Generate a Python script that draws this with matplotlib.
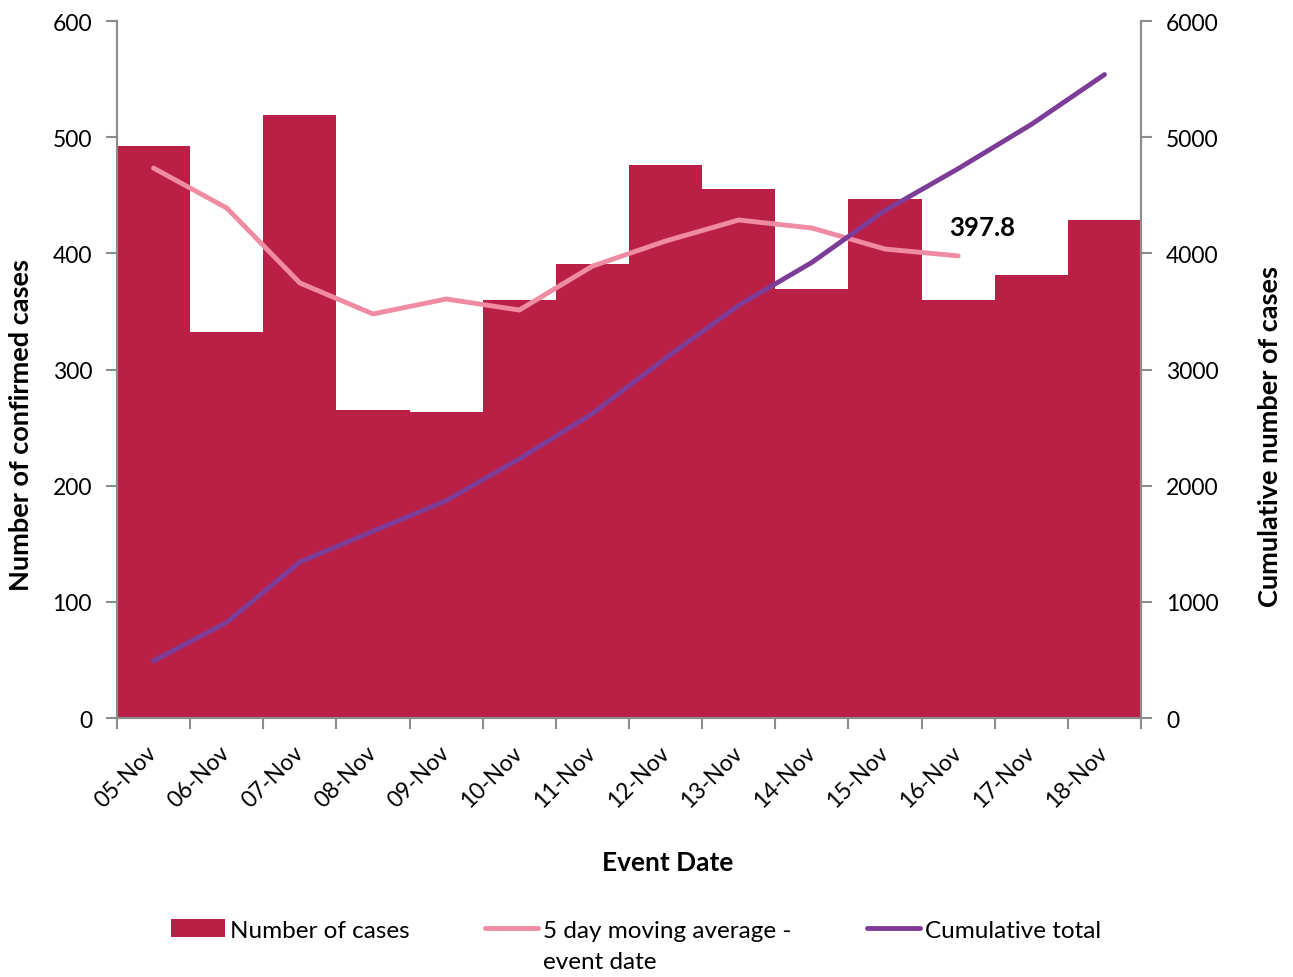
import numpy as np
import matplotlib.pyplot as plt

dates = ["05-Nov", "06-Nov", "07-Nov", "08-Nov", "09-Nov", "10-Nov", "11-Nov",
         "12-Nov", "13-Nov", "14-Nov", "15-Nov", "16-Nov", "17-Nov", "18-Nov"]
cases = [492, 332, 519, 265, 263, 360, 391, 476, 455, 369, 447, 360, 381, 429]
moving_avg = [473.4, 439.0, 374.5, 347.8, 360.7, 351.2, 389.0, 410.6, 428.7,
              421.8, 403.7, 397.8]
cumulative = [492, 824, 1343, 1608, 1871, 2231, 2622, 3098, 3553, 3922, 4369,
              4729, 5110, 5539]

bar_col = "#BA2045"
avg_col = "#EF8CA4"
cum_col = "#7D3C98"
grey = "#8C8C8C"

plt.rcParams["font.family"] = ["Lato", "DejaVu Sans"]

fig = plt.figure(figsize=(12.93, 9.78), dpi=100)
ax = fig.add_axes([0.0905, 0.2648, 0.792, 0.7127])
ax2 = ax.twinx()

x = np.arange(len(dates))

# bars and moving average on the left scale
bars = ax.bar(x, cases, width=1.0, color=bar_col, zorder=1)
ln_avg, = ax.plot(np.arange(len(moving_avg)), moving_avg, color=avg_col, lw=3.5,
                  solid_capstyle="round", zorder=3)
ax.annotate("397.8", (len(moving_avg) - 1, moving_avg[-1]), xytext=(17, 21),
            textcoords="offset points", ha="center", va="center",
            fontsize=18.5, fontweight="bold")

# cumulative on the right scale
ln_cum, = ax2.plot(x, cumulative, color=cum_col, lw=3.5, solid_capstyle="round")

ax.set_xlim(-0.5, len(dates) - 0.5)
ax.set_ylim(0, 600)
ax2.set_ylim(0, 6000)

ax.set_yticks(np.arange(0, 601, 100))
ax2.set_yticks(np.arange(0, 6001, 1000))
ax.set_xticks(np.arange(len(dates) + 1) - 0.5)
ax.set_xticklabels([])
ax.set_xticks(x, minor=True)
ax.set_xticklabels(dates, minor=True, rotation=45, ha="right", va="center",
                   rotation_mode="anchor", fontsize=16.5)
ax.tick_params(axis="x", which="minor", length=0, pad=22)
ax.tick_params(axis="x", which="major", length=8, color=grey, width=1.5)
ax.tick_params(axis="y", length=8, color=grey, width=1.5, labelsize=16.5, pad=10)
ax2.tick_params(axis="y", length=8, color=grey, width=1.5, labelsize=16.5, pad=10)

for a in (ax, ax2):
    a.spines["top"].set_visible(False)
    for s in ("left", "right", "bottom"):
        a.spines[s].set_color(grey)
        a.spines[s].set_linewidth(1.5)

ax.set_ylabel("Number of confirmed cases", fontsize=19.5, fontweight="bold")
ax.yaxis.set_label_coords(-0.082, 0.422)
ax2.set_ylabel("Cumulative number of cases", fontsize=19.5, fontweight="bold",
               rotation=90)
ax2.yaxis.set_label_coords(1.114, 0.406)
ax.set_xlabel("Event Date", fontsize=19, fontweight="bold")
ax.xaxis.set_label_coords(0.538, -0.19)

handles = [bars.patches[0], ln_avg, ln_cum]
labels = ["Number of cases", "5 day moving average -", "Cumulative total"]
leg = fig.legend(handles, labels, loc="center left",
                 bbox_to_anchor=(0.1326, 1 - 931 / 978),
                 ncol=3, frameon=False, fontsize=17.5, handlelength=2.2,
                 handletextpad=0.2, columnspacing=3.1, borderpad=0, borderaxespad=0)
fig.text(543 / 1293, 1 - 963 / 978, "event date", fontsize=17.5,
         ha="left", va="center")

fig.savefig("out.png", dpi=100)
